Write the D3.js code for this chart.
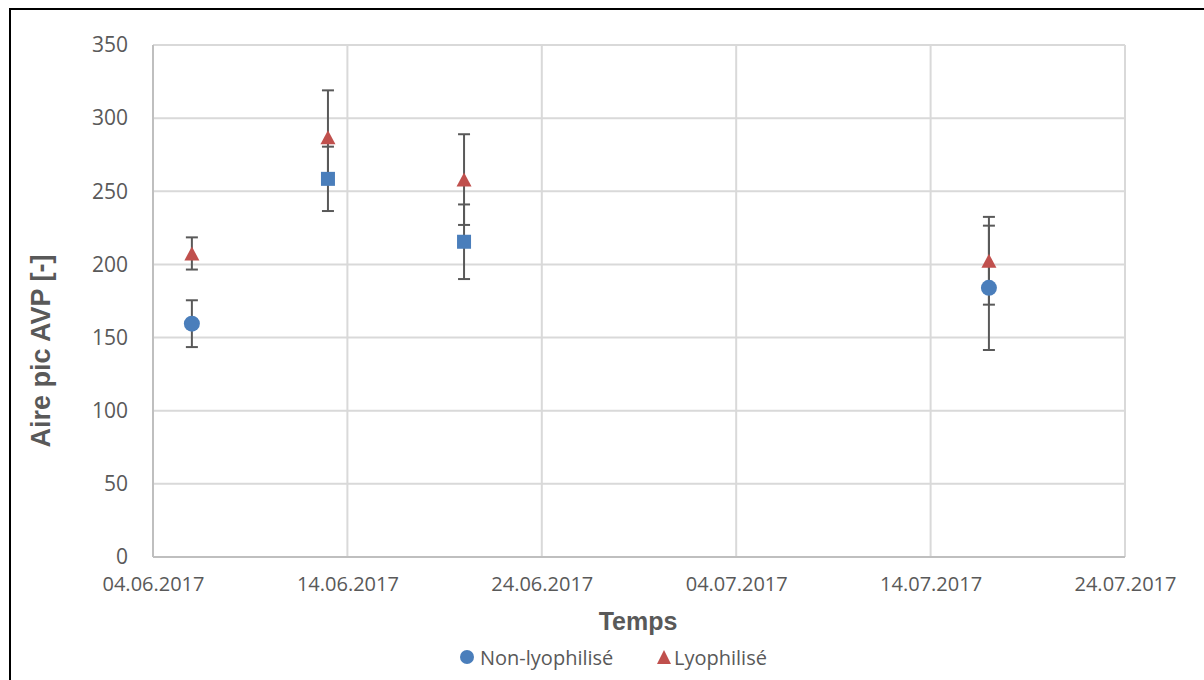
<!DOCTYPE html>
<html>
<head>
<meta charset="utf-8">
<script src="https://cdn.jsdelivr.net/npm/d3@7"></script>
<style>
  body { margin: 0; background: #fff; }
  svg { display: block; }
</style>
</head>
<body>
<div id="chart"></div>
<script>
// data
const dates = ['06.06.2017', '13.06.2017', '20.06.2017', '17.07.2017'];
const nonLyo = [159.5, 258.5, 215.5, 184];
const nonLyoErr = [16, 22, 25.5, 42.5];
const nonLyoShape = ['circle', 'square', 'square', 'circle'];
const lyo = [207.5, 287, 258, 202.5];
const lyoErr = [11, 32, 31, 30];
const xTicks = ['04.06.2017', '14.06.2017', '24.06.2017', '04.07.2017', '14.07.2017', '24.07.2017'];
const yTicks = [0, 50, 100, 150, 200, 250, 300, 350];

const w = 1204, h = 680;
const plotLeft = 153, plotRight = 1125, plotTop = 45, plotBottom = 557;
const blue = '#4a7ebb', red = '#c0504d', grey = '#595959';

const parse = d3.utcParse('%d.%m.%Y');
const fmt = d3.utcFormat('%d.%m.%Y');

let svg = d3.select('#chart').append('svg')
    .attr('width', w)
    .attr('height', h);

// outer frame (only left/top visible)
svg.append('rect')
  .attr('x', 10).attr('y', 9)
  .attr('width', w + 20).attr('height', h + 20)
  .attr('fill', 'none').attr('stroke', '#000').attr('stroke-width', 2);

const x = d3.scaleUtc()
  .domain([parse(xTicks[0]), parse(xTicks[xTicks.length - 1])])
  .range([plotLeft, plotRight]);
const y = d3.scaleLinear()
  .domain([0, 350])
  .range([plotBottom, plotTop]);

//gridlines
svg.append('g').selectAll('line')
  .data(yTicks.slice(1))
  .enter().append('line')
    .attr('x1', plotLeft).attr('x2', plotRight)
    .attr('y1', d => y(d)).attr('y2', d => y(d))
    .attr('stroke', '#d9d9d9').attr('stroke-width', 2);
svg.append('g').selectAll('line')
  .data(xTicks.slice(1))
  .enter().append('line')
    .attr('x1', d => x(parse(d))).attr('x2', d => x(parse(d)))
    .attr('y1', plotTop).attr('y2', plotBottom)
    .attr('stroke', '#d9d9d9').attr('stroke-width', 2);

// axes lines
svg.append('line').attr('x1', plotLeft).attr('x2', plotLeft).attr('y1', plotTop).attr('y2', plotBottom)
  .attr('stroke', '#bfbfbf').attr('stroke-width', 2);
svg.append('line').attr('x1', plotLeft).attr('x2', plotRight).attr('y1', plotBottom).attr('y2', plotBottom)
  .attr('stroke', '#bfbfbf').attr('stroke-width', 2);

// tick labels
const yAxis = svg.append('g')
  .attr('transform', `translate(${plotLeft},0)`)
  .call(d3.axisLeft(y).tickValues(yTicks).tickSize(0).tickPadding(25));
yAxis.select('.domain').remove();
yAxis.selectAll('text')
  .attr('fill', grey)
  .style('font-family', '"Open Sans", sans-serif')
  .style('font-size', '21px');

const xAxis = svg.append('g')
  .attr('transform', `translate(0,${plotBottom})`)
  .call(d3.axisBottom(x).tickValues(xTicks.map(parse)).tickFormat(fmt).tickSize(0).tickPadding(20));
xAxis.select('.domain').remove();
xAxis.selectAll('text')
  .attr('fill', grey)
  .style('font-family', '"Open Sans", sans-serif')
  .style('font-size', '20px');

// axis titles
svg.append('text')
  .attr('transform', 'translate(50,351) rotate(-90)')
  .attr('text-anchor', 'middle')
  .attr('fill', grey)
  .style('font-family', '"Liberation Sans", Arial, sans-serif')
  .style('font-weight', 'bold')
  .style('font-size', '27px')
  .text('Aire pic AVP [-]');
svg.append('text')
  .attr('x', 638).attr('y', 630)
  .attr('text-anchor', 'middle')
  .attr('fill', grey)
  .style('font-family', '"Liberation Sans", Arial, sans-serif')
  .style('font-weight', 'bold')
  .style('font-size', '25px')
  .text('Temps');

// build series
const series = [
  { name: 'Non-lyophilisé', color: blue, pts: dates.map((d, i) => ({ date: parse(d), v: nonLyo[i], e: nonLyoErr[i], shape: nonLyoShape[i] })) },
  { name: 'Lyophilisé', color: red, pts: dates.map((d, i) => ({ date: parse(d), v: lyo[i], e: lyoErr[i], shape: 'triangle' })) }
];

// error bars first
const capW = 6;
series.forEach(s => {
  let g = svg.append('g').attr('stroke', grey).attr('stroke-width', 2);
  s.pts.forEach(p => {
    const px = x(p.date);
    g.append('line').attr('x1', px).attr('x2', px).attr('y1', y(p.v + p.e)).attr('y2', y(p.v - p.e));
    g.append('line').attr('x1', px - capW).attr('x2', px + capW).attr('y1', y(p.v + p.e)).attr('y2', y(p.v + p.e));
    g.append('line').attr('x1', px - capW).attr('x2', px + capW).attr('y1', y(p.v - p.e)).attr('y2', y(p.v - p.e));
  });
});

function drawMarker(g, shape, cx, cy, color) {
  if (shape == 'circle') {
    g.append('circle').attr('cx', cx).attr('cy', cy).attr('r', 8).attr('fill', color);
  } else if (shape == 'square') {
    g.append('rect').attr('x', cx - 7).attr('y', cy - 7).attr('width', 14).attr('height', 14).attr('fill', color);
  } else {
    g.append('path')
      .attr('d', `M${cx},${cy - 7}L${cx + 7.5},${cy + 7}L${cx - 7.5},${cy + 7}Z`)
      .attr('fill', color);
  }
}

series.forEach(s => {
  let g = svg.append('g');
  s.pts.forEach(p => drawMarker(g, p.shape, x(p.date), y(p.v), s.color));
});

// legend
const legend = [
  { name: series[0].name, color: blue, shape: 'circle', mx: 467, tx: 480 },
  { name: series[1].name, color: red, shape: 'triangle', mx: 664, tx: 674 }
];
legend.forEach(l => {
  let g = svg.append('g');
  if (l.shape == 'circle') {
    g.append('circle').attr('cx', l.mx).attr('cy', 657).attr('r', 7).attr('fill', l.color);
  } else {
    g.append('path').attr('d', `M${l.mx},${650}L${l.mx + 7},${664}L${l.mx - 7},${664}Z`).attr('fill', l.color);
  }
  g.append('text')
    .attr('x', l.tx).attr('y', 665)
    .attr('fill', grey)
    .style('font-family', '"Open Sans", sans-serif')
    .style('font-size', '20px')
    .text(l.name);
});
</script>
</body>
</html>
